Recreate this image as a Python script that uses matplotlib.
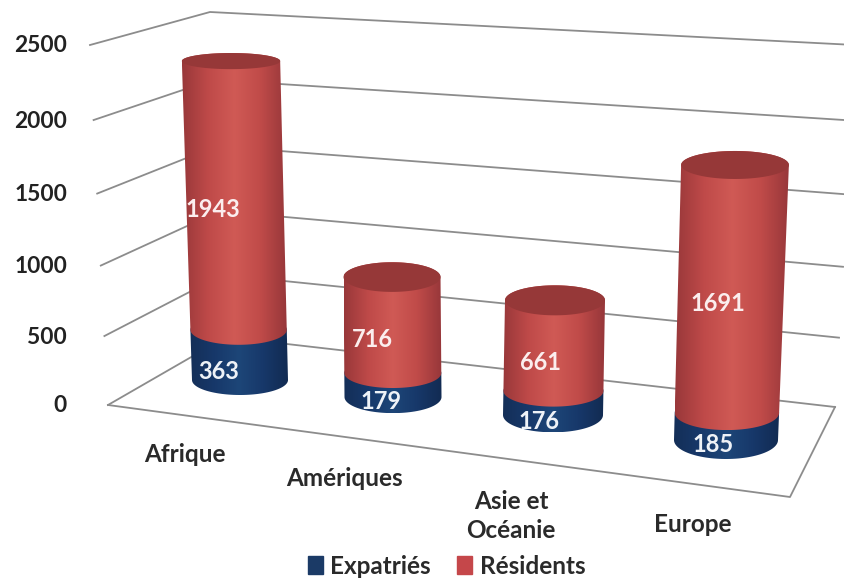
import numpy as np
import matplotlib
matplotlib.use('Agg')
import matplotlib.pyplot as plt
from matplotlib.colors import LinearSegmentedColormap
from matplotlib.patches import Polygon, Patch

categories = ['Afrique', 'Amériques', 'Asie et\nOcéanie', 'Europe']
expatries = [363, 179, 176, 185]
residents = [1943, 716, 661, 1691]
ticks = [0, 500, 1000, 1500, 2000, 2500]

plt.rcParams['font.family'] = ['Lato', 'DejaVu Sans']
plt.rcParams['font.weight'] = 'bold'

# layout of the fake 3d scene, in pixels
base_x = [240, 393, 553, 726]
base_y = [380, 397, 415, 440]
scale_y = [0.1383, 0.134, 0.137, 0.1466]
lean_x = [-0.0039, -0.0011, 0.0024, 0.0048]
half_w = [48, 48.5, 50, 52]
grow_w = [0.0005, 0.0, 0.0, 0.001]
res_off = [(-22, 14), (-20, 14), (-14, 17), (-13, 15)]
exp_off = [(-21, 17), (-12, 16), (-14, 19), (-13, 18)]
cat_xy = [(185, 455), (344, 479), (511, 516), (693, 524)]


def project(i, v):
    return base_x[i] + v * lean_x[i], base_y[i] - v * scale_y[i]


def ell_b(y):
    return np.interp(y, [60, 165, 300, 380, 440], [8, 14, 15, 15, 19])


def width(i, v):
    return half_w[i] + v * grow_w[i]


def arc(i, v, t):
    x, y = project(i, v)
    return np.column_stack([x + width(i, v) * np.cos(t), y + ell_b(y) * np.sin(t)])


def wall_line(v):
    f = v / 2500
    g = (341 * f + 19 * f * f) / 360
    left = (108 - 18 * f, 405 - 360 * g)
    back = (226 - 16 * f, 337 - 325 * g)
    right = (835 + 20 * f, 407 - 362 * g)
    return np.array([left, back, right])


red_map = LinearSegmentedColormap.from_list('r', ['#99383a', '#bf4a49', '#d05a55', '#c04b49', '#97373a'])
blue_map = LinearSegmentedColormap.from_list('b', ['#142f58', '#17386a', '#1d4678', '#17386a', '#122b52'])

fig = plt.figure(figsize=(8.44, 5.83), dpi=100)
ax = fig.add_axes([0, 0, 1, 1])

grid_col = '#8c8c8c'
for v in ticks:
    pts = wall_line(v)
    ax.plot(pts[:, 0], pts[:, 1], color=grid_col, lw=1.3, zorder=1)
    ax.text(67, pts[0, 1] + 1, str(v), ha='right', va='center', fontsize=16.4, color='#222222')
ax.plot([108, 790, 835], [405, 497, 407], color=grid_col, lw=1.3, zorder=1)

front = np.linspace(0, np.pi, 60)
back = np.linspace(np.pi, 2 * np.pi, 60)


def segment(i, v0, v1, cmap, z):
    low = arc(i, v0, front)
    high = arc(i, v1, back)
    pts = np.vstack([low, high])
    x0, x1 = pts[:, 0].min(), pts[:, 0].max()
    y0, y1 = pts[:, 1].min(), pts[:, 1].max()
    im = ax.imshow(np.linspace(0, 1, 128)[None, :], cmap=cmap, extent=(x0, x1, y1, y0),
                   aspect='auto', zorder=z)
    im.set_clip_path(Polygon(pts, transform=ax.transData))


for i in range(4):
    e, r = expatries[i], residents[i]
    segment(i, 0, e, blue_map, 3)
    segment(i, e, e + r, red_map, 4)
    cap = np.vstack([arc(i, e + r, front), arc(i, e + r, back)])
    ax.add_patch(Polygon(cap, closed=True, facecolor='#963838', edgecolor='none', zorder=5))

    x, y = project(i, e / 2)
    ax.text(x + exp_off[i][0], y + exp_off[i][1], str(e), color='#eef2f7', ha='center', va='center',
            fontsize=17, zorder=6)
    x, y = project(i, e + r / 2)
    ax.text(x + res_off[i][0], y + res_off[i][1], str(r), color='#fbeeee', ha='center', va='center',
            fontsize=17, zorder=6)
    ax.text(cat_xy[i][0], cat_xy[i][1], categories[i], ha='center', va='center', fontsize=17.5,
            color='#2a2a2a', linespacing=1.3)

handles = [Patch(color='#1b3a66', label='Expatriés'), Patch(color='#c5474a', label='Résidents')]
ax.legend(handles=handles, ncol=2, frameon=False, loc='center', bbox_to_anchor=(446.5, 566),
          bbox_transform=ax.transData, fontsize=17.5, handlelength=0.62, handleheight=0.75,
          handletextpad=0.3, columnspacing=1.1, labelcolor='#2a2a2a')

ax.set_xlim(0, 844)
ax.set_ylim(583, 0)
ax.axis('off')
fig.savefig('out.png', dpi=100)
